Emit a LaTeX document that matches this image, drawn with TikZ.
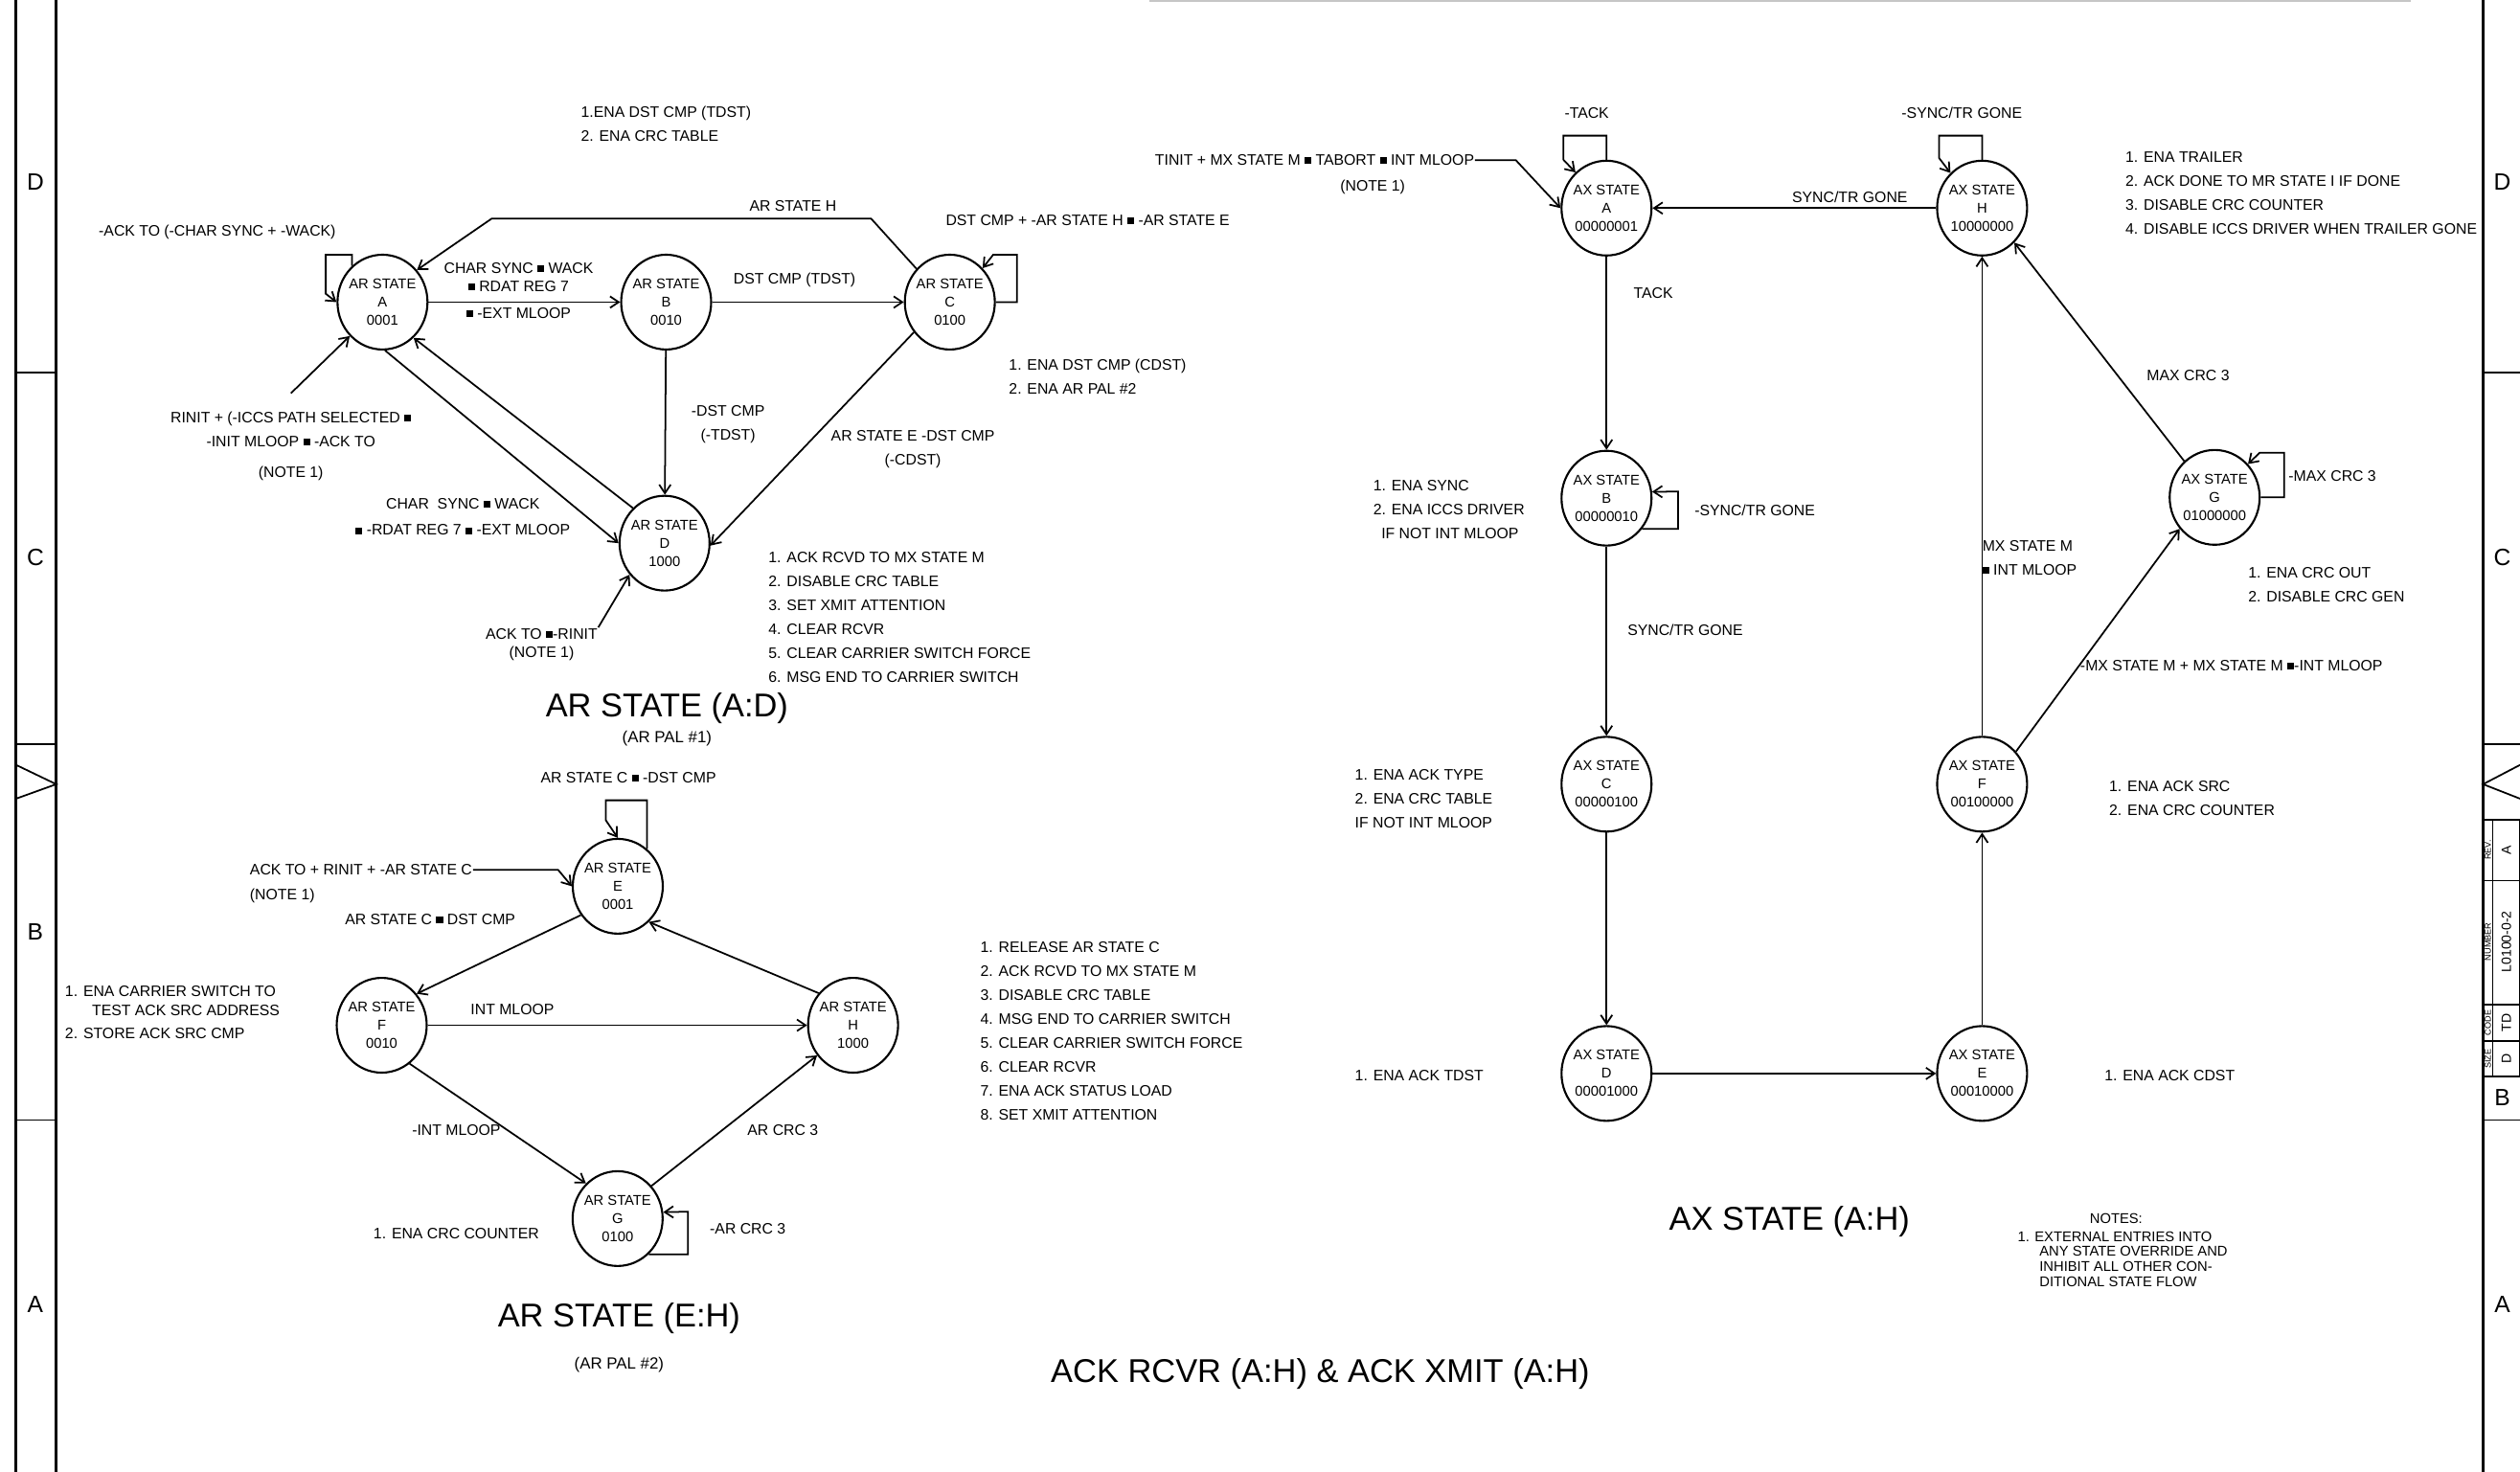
\documentclass[tikz,border=0pt]{standalone}
\usepackage{fontspec}
\setmainfont{Liberation Sans}
\usetikzlibrary{shapes.geometric, arrows.meta}
\newcommand{\sqand}{\rule[0.4pt]{2pt}{2pt}}

\begin{document}
\begin{tikzpicture}[
  x=0.016779cm, y=-0.016779cm,
  line width=0.5pt,
  state/.style={ellipse, draw, line width=0.6pt, minimum width=0.94cm, minimum height=0.99cm,
               inner xsep=-4pt, inner ysep=0pt, align=center, font=\fontsize{4.2}{5.4}\selectfont},
  lbl/.style={inner sep=0pt, align=center, font=\fontsize{4.5}{7.1}\selectfont},
  note/.style={lbl, anchor=west, align=left},
  heading/.style={inner sep=0pt, font=\fontsize{9.8}{11}\selectfont},
  zone/.style={inner sep=0pt, font=\fontsize{7}{8}\selectfont},
  tiny/.style={inner sep=0pt, rotate=90, font=\fontsize{2.6}{3}\selectfont},
  value/.style={inner sep=0pt, rotate=90, font=\fontsize{4}{5}\selectfont},
  rim/.style={line width=0.9pt},
  arrow/.style={-{Straight Barb[length=0.9mm, width=1.2mm]}}
]
\useasboundingbox (0,0) rectangle (1568,916);

\draw[rim] (10,0) -- (10,916);
\draw[rim] (35,0) -- (35,916);
\draw[rim] (1545,0) -- (1545,916);
\draw[gray!45, line width=0.3pt] (715,0.6) -- (1500,0.6);
\draw (10,232) -- (35,232);
\draw (10,463) -- (35,463);
\draw (10,476) -- (35,488) -- (10,497);
\draw (10,697) -- (35,697);
\draw (1545,232) -- (1568,232);
\draw (1545,463) -- (1568,463);
\draw (1568,476) -- (1545,488) -- (1568,497);
\draw (1545,697) -- (1568,697);
\draw (1545,510) rectangle (1568,670);
\draw (1551,510) -- (1551,670);
\draw (1545,548) -- (1568,548);
\draw (1545,625) -- (1568,625);
\draw (1545,648) -- (1568,648);
\foreach \z/\y in {D/113, C/347, B/580, A/812}
  \node[zone] (zoneL\z) at (22,\y) {\z};
\foreach \z/\y in {D/113, C/347, B/683, A/812}
  \node[zone] (zoneR\z) at (1557,\y) {\z};
\node[tiny] (revHead) at (1548,529) {REV.};
\node[value] (revVal) at (1559.5,529) {A};
\node[tiny] (numHead) at (1548,586) {NUMBER};
\node[value] (numVal) at (1559.5,586) {L0100-0-2};
\node[tiny] (codeHead) at (1548,636.5) {CODE};
\node[value] (codeVal) at (1559.5,636.5) {TD};
\node[tiny] (sizeHead) at (1548,659) {SIZE};
\node[value] (sizeVal) at (1559.5,659) {D};

\node[state] (arA) at (238,188) {AR STATE\\A\\0001};
\node[state] (arB) at (414.5,188) {AR STATE\\B\\0010};
\node[state] (arC) at (591,188) {AR STATE\\C\\0100};
\node[state] (arD) at (413.5,338) {AR STATE\\D\\1000};
\node[state] (arE) at (384.4,551.5) {AR STATE\\E\\0001};
\node[state] (arF) at (237.5,638) {AR STATE\\F\\0010};
\node[state] (arH) at (530.8,638) {AR STATE\\H\\1000};
\node[state] (arG) at (384.3,758.3) {AR STATE\\G\\0100};

\node[state] (axA) at (999.6,129.5) {AX STATE\\A\\00000001};
\node[state] (axH) at (1233.3,129.5) {AX STATE\\H\\10000000};
\node[state] (axB) at (999.6,310) {AX STATE\\B\\00000010};
\node[state] (axG) at (1378,309.5) {AX STATE\\G\\01000000};
\node[state] (axC) at (999.6,488) {AX STATE\\C\\00000100};
\node[state] (axF) at (1233.3,488) {AX STATE\\F\\00100000};
\node[state] (axD) at (999.6,668) {AX STATE\\D\\00001000};
\node[state] (axE) at (1233.3,668) {AX STATE\\E\\00010000};

\node[note] (enaTdst) at (361,77) {1.ENA DST CMP (TDST)\\2. ENA CRC TABLE};
\node[note] (ackSync) at (61,144.4) {-ACK TO (-CHAR SYNC + -WACK)};
\node[lbl, font=\fontsize{4.5}{5.4}\selectfont] (abLblTop) at (322.7,172.5) {CHAR SYNC \sqand{} WACK\\\sqand{} RDAT REG 7};
\node[lbl] (abLblBot) at (322.7,194.7) {\sqand{} -EXT MLOOP};
\node[lbl] (bcLbl) at (494.4,174.2) {DST CMP (TDST)};
\node[lbl] (caLbl) at (493.4,128) {AR STATE H};
\node[note] (cLoopLbl) at (588,137) {DST CMP + -AR STATE H \sqand{} -AR STATE E};
\node[note] (enaCdst) at (627.3,234.5) {1. ENA DST CMP (CDST)\\2. ENA AR PAL \#2};
\node[lbl] (bdLbl) at (453,264) {-DST CMP\\(-TDST)};
\node[lbl] (cdLbl) at (568,279.4) {AR STATE E -DST CMP\\(-CDST)};
\node[lbl] (rinitA) at (181,277.6) {RINIT + (-ICCS PATH SELECTED \sqand\\-INIT MLOOP \sqand{} -ACK TO\\[2pt](NOTE 1)};
\node[lbl, font=\fontsize{4.5}{7.8}\selectfont] (daLbl) at (288,321.7) {CHAR\ \ SYNC \sqand{} WACK\\\sqand{} -RDAT REG 7 \sqand{} -EXT MLOOP};
\node[lbl, font=\fontsize{4.5}{5.5}\selectfont] (acktoD) at (337,401) {ACK TO \sqand-RINIT\\(NOTE 1)};
\node[note] (listD) at (477.7,384) {1. ACK RCVD TO MX STATE M\\2. DISABLE CRC TABLE\\3. SET XMIT ATTENTION\\4. CLEAR RCVR\\5. CLEAR CARRIER SWITCH FORCE\\6. MSG END TO CARRIER SWITCH};
\node[heading] (titleAD) at (415,441) {AR STATE (A:D)};
\node[lbl, font=\fontsize{4.8}{6}\selectfont] (palOne) at (415,459.3) {(AR PAL \#1)};

\node[lbl] (eLoopLbl) at (391,484) {AR STATE C \sqand{} -DST CMP};
\node[note] (ackE) at (155,541.3) {ACK TO + RINIT + -AR STATE C};
\node[note] (noteE) at (155,557.2) {(NOTE 1)};
\node[lbl] (efLbl) at (267.7,572.1) {AR STATE C \sqand{} DST CMP};
\node[note, font=\fontsize{4.5}{5.7}\selectfont] (listF) at (40,629.9) {1. ENA CARRIER SWITCH TO\\\hspace*{8pt}TEST ACK SRC ADDRESS\\[1.1pt]2. STORE ACK SRC CMP};
\node[lbl] (fhLbl) at (318.8,628.1) {INT MLOOP};
\node[lbl] (fgLbl) at (283.9,703.2) {-INT MLOOP};
\node[lbl] (ghLbl) at (487.1,703.2) {AR CRC 3};
\node[note] (listH) at (609.5,641.6) {1. RELEASE AR STATE C\\2. ACK RCVD TO MX STATE M\\3. DISABLE CRC TABLE\\4. MSG END TO CARRIER SWITCH\\5. CLEAR CARRIER SWITCH FORCE\\6. CLEAR RCVR\\7. ENA ACK STATUS LOAD\\8. SET XMIT ATTENTION};
\node[note] (gLoopLbl) at (441.2,764.8) {-AR CRC 3};
\node[lbl] (listG) at (283.9,767.8) {1. ENA CRC COUNTER};
\node[heading] (titleEH) at (385.2,820.4) {AR STATE (E:H)};
\node[lbl, font=\fontsize{4.8}{6}\selectfont] (palTwo) at (385.2,849.2) {(AR PAL \#2)};
\node[heading] (titleAll) at (821.5,855.2) {ACK RCVR (A:H) \& ACK XMIT (A:H)};

\node[lbl] (aLoopLbl) at (987.3,70.1) {-TACK};
\node[lbl] (hLoopLbl) at (1220.7,70.1) {-SYNC/TR GONE};
\node[lbl] (haLbl) at (1151,122.5) {SYNC/TR GONE};
\node[note] (tinit) at (718.2,99.7) {TINIT + MX STATE M \sqand{} TABORT \sqand{} INT MLOOP};
\node[lbl] (noteA) at (854.1,116.6) {(NOTE 1)};
\node[note] (listAxH) at (1322,120.4) {1. ENA TRAILER\\2. ACK DONE TO MR STATE I IF DONE\\3. DISABLE CRC COUNTER\\4. DISABLE ICCS DRIVER WHEN TRAILER GONE};
\node[note] (abAxLbl) at (1016,182.4) {TACK};
\node[note] (listAxB) at (854,317) {1. ENA SYNC\\2. ENA ICCS DRIVER\\\hspace*{2.4pt}IF NOT INT MLOOP};
\node[note] (bLoopLbl) at (1053.9,317.4) {-SYNC/TR GONE};
\node[lbl] (gaxLbl) at (1361.5,233.4) {MAX CRC 3};
\node[note] (gLoopAxLbl) at (1423.5,296.4) {-MAX CRC 3};
\node[note] (fhAxLbl) at (1233,347.1) {MX STATE M\\\sqand{} INT MLOOP};
\node[note] (listAxG) at (1398.4,363.8) {1. ENA CRC OUT\\2. DISABLE CRC GEN};
\node[note] (bcAxLbl) at (1012.2,392.3) {SYNC/TR GONE};
\node[note] (fgAxLbl) at (1293.9,414.2) {-MX STATE M + MX STATE M \sqand-INT MLOOP};
\node[note] (listAxC) at (842.6,497.2) {1. ENA ACK TYPE\\2. ENA CRC TABLE\\IF NOT INT MLOOP};
\node[note] (listAxF) at (1311.9,496.6) {1. ENA ACK SRC\\2. ENA CRC COUNTER};
\node[note] (listAxD) at (842.6,669) {1. ENA ACK TDST};
\node[note] (listAxE) at (1309,669) {1. ENA ACK CDST};
\node[heading] (titleAX) at (1113.4,760.4) {AX STATE (A:H)};
\node[lbl, font=\fontsize{4.2}{5}\selectfont] (notesHead) at (1316.7,758.5) {NOTES:};
\node[note, font=\fontsize{4.2}{4.5}\selectfont] (notesBody) at (1254.9,783.5) {1. EXTERNAL ENTRIES INTO\\\hspace*{6.5pt}ANY STATE OVERRIDE AND\\\hspace*{6.5pt}INHIBIT ALL OTHER CON-\\\hspace*{6.5pt}DITIONAL STATE FLOW};

\draw[arrow] (arA) -- (arB);
\draw[arrow] (arB) -- (arC);
\draw[arrow] (arC.135) -- (542,136) -- (306,136) -- (arA.43);
\draw[arrow] (arC.east) -- (632.7,188) |- (618,158.5) -- (arC.46);
\draw[arrow] (arA.130) |- (202.7,158.5) -- (202.7,182.8) -- (arA.180);
\draw[arrow] (arB) -- (arD);
\draw[arrow] (arC.220) -- (arD.-3);
\draw[arrow] (arA.-87) -- (arD.180);
\draw[arrow] (arD.132) -- (arA.-49);
\draw[arrow] (rinitA.north) ++(0,-11) -- (arA.226);
\draw[arrow] (acktoD.north east) -- (arD.222);

\draw[arrow] (arE.52) |- (377,498) -- (377,510.5) -- (arE.north);
\draw[arrow] (ackE.east) -- (347.3,541.3) -- (arE.west);
\draw[arrow] (arE.218) -- (arF.42);
\draw[arrow] (arH.137) -- (arE.-49);
\draw[arrow] (arF) -- (arH);
\draw[arrow] (arF.-54) -- (arG.132);
\draw[arrow] (arG.44) -- (arH.220);
\draw[arrow] (arG.-49) -| (428,754) -- (arG.8);

\draw[arrow] (axA.north) |- (972.7,84.4) -- (972.7,99.3) -- (axA.131);
\draw[arrow] (axH.north) |- (1206.5,84.4) -- (1206.5,98.3) -- (axH.132);
\draw[arrow] (axH) -- (axA);
\draw[arrow] (tinit.east) -- (943.2,99.7) -- (axA.west);
\draw[arrow] (axA) -- (axB);
\draw[arrow] (axB.-41) -| (1044.1,305.9) -- (axB.8);
\draw[arrow] (axB) -- (axC);
\draw[arrow] (axC) -- (axD);
\draw[arrow] (axD) -- (axE);
\draw[arrow] (axE) -- (axF);
\draw[arrow] (axF) -- (axH);
\draw[arrow] (axF.44) -- (axG.222);
\draw[arrow] (axG.130) -- (axH.-47);
\draw[arrow] (axG.east) -- (1421.2,309.5) |- (1406,281.7) -- (axG.45);

\end{tikzpicture}
\end{document}
